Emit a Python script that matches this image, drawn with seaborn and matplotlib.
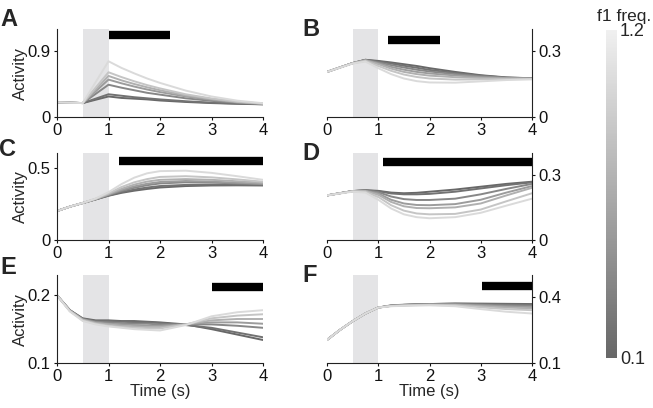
import numpy as np
import pandas as pd
import matplotlib
matplotlib.use("Agg")
import matplotlib.pyplot as plt
import seaborn as sns
from matplotlib.colors import LinearSegmentedColormap, Normalize
from matplotlib.ticker import FormatStrFormatter

# time points (s)
time = [0, 0.25, 0.5, 0.75, 1.0, 1.25, 1.5, 1.75, 2.0, 2.5, 3.0, 3.5, 4.0]
# f1 frequencies, dark -> light
freqs = [0.1, 0.2, 0.4, 0.6, 0.8, 1.0, 1.2]

act_A = [
    [0.20, 0.195, 0.19, 0.235, 0.28, 0.26, 0.25, 0.24, 0.225, 0.205, 0.19, 0.18, 0.173],
    [0.20, 0.195, 0.19, 0.25, 0.31, 0.29, 0.27, 0.255, 0.24, 0.215, 0.195, 0.183, 0.174],
    [0.20, 0.195, 0.19, 0.315, 0.44, 0.40, 0.365, 0.33, 0.305, 0.255, 0.22, 0.195, 0.178],
    [0.20, 0.195, 0.19, 0.35, 0.51, 0.46, 0.415, 0.375, 0.34, 0.28, 0.235, 0.20, 0.18],
    [0.20, 0.195, 0.19, 0.375, 0.56, 0.50, 0.45, 0.405, 0.365, 0.295, 0.245, 0.205, 0.182],
    [0.20, 0.195, 0.19, 0.40, 0.61, 0.545, 0.487, 0.435, 0.39, 0.31, 0.253, 0.21, 0.183],
    [0.20, 0.195, 0.19, 0.475, 0.76, 0.67, 0.595, 0.525, 0.465, 0.36, 0.28, 0.223, 0.188],
]
act_B = [
    [0.205, 0.225, 0.245, 0.26, 0.255, 0.248, 0.24, 0.232, 0.222, 0.205, 0.19, 0.18, 0.176],
    [0.205, 0.225, 0.245, 0.26, 0.252, 0.243, 0.233, 0.224, 0.214, 0.20, 0.188, 0.179, 0.176],
    [0.205, 0.225, 0.245, 0.259, 0.248, 0.236, 0.225, 0.215, 0.207, 0.195, 0.185, 0.178, 0.175],
    [0.205, 0.225, 0.245, 0.258, 0.244, 0.228, 0.215, 0.205, 0.198, 0.189, 0.181, 0.177, 0.175],
    [0.205, 0.225, 0.245, 0.257, 0.24, 0.22, 0.205, 0.195, 0.188, 0.181, 0.177, 0.175, 0.174],
    [0.205, 0.225, 0.244, 0.255, 0.232, 0.21, 0.193, 0.182, 0.175, 0.17, 0.171, 0.172, 0.173],
    [0.205, 0.224, 0.243, 0.252, 0.222, 0.195, 0.175, 0.163, 0.157, 0.156, 0.162, 0.168, 0.171],
]
act_C = [
    [0.20, 0.23, 0.255, 0.28, 0.305, 0.325, 0.34, 0.352, 0.362, 0.372, 0.376, 0.377, 0.376],
    [0.20, 0.23, 0.255, 0.28, 0.307, 0.33, 0.348, 0.362, 0.372, 0.38, 0.382, 0.381, 0.379],
    [0.20, 0.23, 0.255, 0.281, 0.31, 0.338, 0.36, 0.378, 0.39, 0.398, 0.396, 0.39, 0.385],
    [0.20, 0.23, 0.255, 0.282, 0.313, 0.345, 0.37, 0.388, 0.40, 0.407, 0.403, 0.395, 0.388],
    [0.20, 0.23, 0.255, 0.283, 0.317, 0.353, 0.382, 0.403, 0.415, 0.42, 0.415, 0.405, 0.395],
    [0.20, 0.23, 0.255, 0.284, 0.322, 0.365, 0.398, 0.42, 0.435, 0.44, 0.432, 0.418, 0.402],
    [0.20, 0.23, 0.256, 0.286, 0.33, 0.385, 0.43, 0.46, 0.475, 0.478, 0.463, 0.44, 0.415],
]
act_D = [
    [0.205, 0.215, 0.225, 0.229, 0.226, 0.218, 0.215, 0.217, 0.222, 0.232, 0.245, 0.258, 0.268],
    [0.205, 0.215, 0.225, 0.228, 0.224, 0.214, 0.21, 0.21, 0.212, 0.222, 0.237, 0.252, 0.265],
    [0.205, 0.215, 0.225, 0.227, 0.22, 0.20, 0.188, 0.184, 0.184, 0.19, 0.21, 0.235, 0.258],
    [0.205, 0.215, 0.225, 0.226, 0.214, 0.185, 0.168, 0.161, 0.16, 0.165, 0.185, 0.218, 0.248],
    [0.205, 0.215, 0.225, 0.225, 0.208, 0.175, 0.155, 0.147, 0.146, 0.15, 0.168, 0.205, 0.24],
    [0.205, 0.215, 0.224, 0.222, 0.198, 0.16, 0.135, 0.122, 0.118, 0.12, 0.14, 0.178, 0.215],
    [0.205, 0.214, 0.222, 0.218, 0.185, 0.145, 0.118, 0.105, 0.10, 0.105, 0.125, 0.158, 0.19],
]
act_E = [
    [0.20, 0.178, 0.166, 0.163, 0.163, 0.162, 0.162, 0.161, 0.16, 0.157, 0.15, 0.142, 0.134],
    [0.20, 0.178, 0.165, 0.162, 0.162, 0.161, 0.16, 0.16, 0.159, 0.156, 0.152, 0.145, 0.138],
    [0.20, 0.178, 0.165, 0.161, 0.16, 0.159, 0.158, 0.158, 0.157, 0.157, 0.157, 0.155, 0.152],
    [0.20, 0.177, 0.164, 0.16, 0.158, 0.157, 0.156, 0.155, 0.155, 0.157, 0.16, 0.16, 0.158],
    [0.20, 0.177, 0.164, 0.159, 0.157, 0.155, 0.154, 0.153, 0.153, 0.157, 0.163, 0.165, 0.165],
    [0.20, 0.177, 0.163, 0.158, 0.155, 0.153, 0.152, 0.151, 0.151, 0.157, 0.166, 0.17, 0.172],
    [0.20, 0.176, 0.162, 0.157, 0.154, 0.152, 0.15, 0.149, 0.148, 0.156, 0.169, 0.175, 0.178],
]
act_F = [
    [0.205, 0.25, 0.29, 0.325, 0.352, 0.36, 0.364, 0.366, 0.368, 0.37, 0.37, 0.369, 0.368],
    [0.205, 0.25, 0.29, 0.325, 0.352, 0.362, 0.365, 0.367, 0.368, 0.37, 0.368, 0.366, 0.365],
    [0.205, 0.25, 0.29, 0.325, 0.352, 0.361, 0.364, 0.366, 0.367, 0.368, 0.365, 0.362, 0.36],
    [0.205, 0.25, 0.29, 0.325, 0.352, 0.36, 0.363, 0.365, 0.366, 0.366, 0.362, 0.357, 0.354],
    [0.205, 0.25, 0.29, 0.325, 0.352, 0.36, 0.362, 0.364, 0.365, 0.364, 0.358, 0.352, 0.348],
    [0.205, 0.25, 0.29, 0.325, 0.352, 0.359, 0.361, 0.363, 0.364, 0.362, 0.353, 0.345, 0.34],
    [0.205, 0.25, 0.29, 0.325, 0.352, 0.358, 0.36, 0.361, 0.362, 0.358, 0.345, 0.333, 0.325],
]

# significance bars: (start, end, height)
bars = {
    "A": (1.0, 2.2, 1.115),
    "B": (1.2, 2.2, 0.348),
    "C": (1.2, 4.0, 0.545),
    "D": (1.1, 4.0, 0.36),
    "E": (3.0, 4.0, 0.212),
    "F": (3.03, 4.0, 0.449),
}
ylims = {"A": (0, 1.2), "B": (0, 0.4), "C": (0, 0.6), "D": (0, 0.4), "E": (0.1, 0.23), "F": (0.1, 0.5)}
yticks = {"A": [0, 0.9], "B": [0, 0.3], "C": [0, 0.5], "D": [0, 0.3], "E": [0.1, 0.2], "F": [0.1, 0.4]}
panels = {"A": act_A, "B": act_B, "C": act_C, "D": act_D, "E": act_E, "F": act_F}

rows = []
for key, series in panels.items():
    for f, vals in zip(freqs, series):
        for t, v in zip(time, vals):
            rows.append((key, f, t, v))
df = pd.DataFrame(rows, columns=["panel", "freq", "time", "activity"])

sns.set_style("ticks")
plt.rcParams["font.family"] = ["Liberation Sans", "DejaVu Sans"]

line_cmap = LinearSegmentedColormap.from_list("f1_lines", ["#686868", "#dadada"])
bar_cmap = LinearSegmentedColormap.from_list("f1_bar", ["#676767", "#f0f0f0"])
norm = Normalize(0.1, 1.2)

fig = plt.figure(figsize=(6.53, 4.08), dpi=100)
W, H = 653, 408
boxes = {
    "A": (57, 29, 206, 88), "B": (327, 29, 205, 88),
    "C": (57, 153, 206, 87), "D": (327, 153, 205, 87),
    "E": (57, 275, 206, 88), "F": (327, 275, 205, 88),
}
letter_pos = {"A": (9, 20), "B": (311, 30), "C": (8, 149), "D": (311, 154), "E": (8, 268), "F": (310, 276)}

for key, (x, y, w, h) in boxes.items():
    ax = fig.add_axes([x / W, 1 - (y + h) / H, w / W, h / H])
    ax.axvspan(0.5, 1.0, color="#e4e4e6", lw=0, zorder=0)
    sub = df[df["panel"] == key]
    sns.lineplot(data=sub, x="time", y="activity", hue="freq", palette=line_cmap,
                 hue_norm=norm, legend=False, lw=1.4, ax=ax, zorder=2)
    x0, x1, yb = bars[key]
    ax.plot([x0, x1], [yb, yb], color="black", lw=6, solid_capstyle="butt", zorder=3)
    ax.set_xlim(0, 4)
    ax.set_ylim(*ylims[key])
    ax.set_xticks([0, 1, 2, 3, 4])
    ax.set_yticks(yticks[key])
    ax.yaxis.set_major_formatter(FormatStrFormatter("%g"))
    ax.tick_params(direction="out", length=2.5, width=0.8, labelsize=12, pad=2, colors="#111111")
    right = key in ("B", "D", "F")
    sns.despine(ax=ax, left=right, right=not right)
    if right:
        ax.yaxis.tick_right()
        ax.set_ylabel("")
    else:
        ax.set_ylabel("Activity", fontsize=12, labelpad=0)
    for s in ax.spines.values():
        s.set_linewidth(0.8)
        s.set_color("#222222")
    ax.set_xlabel("Time (s)" if key in ("E", "F") else "", fontsize=12, labelpad=0)
    lx, ly = letter_pos[key]
    fig.text(lx / W, 1 - ly / H, key, fontsize=17, fontweight="bold", ha="center", va="center")

# colourbar for f1 frequency
cax = fig.add_axes([606 / W, 1 - 358 / H, 11 / W, 328 / H])
sm = plt.cm.ScalarMappable(norm=norm, cmap=bar_cmap)
cb = fig.colorbar(sm, cax=cax, ticks=[0.1, 1.2])
cb.outline.set_visible(False)
cb.ax.tick_params(length=0, labelsize=13, pad=2)
cb.ax.set_yticklabels(["0.1", "1.2"])
fig.text(624 / W, 1 - 16 / H, "f1 freq.", fontsize=12.5, ha="center", va="center")

fig.savefig("out.png", dpi=100)
